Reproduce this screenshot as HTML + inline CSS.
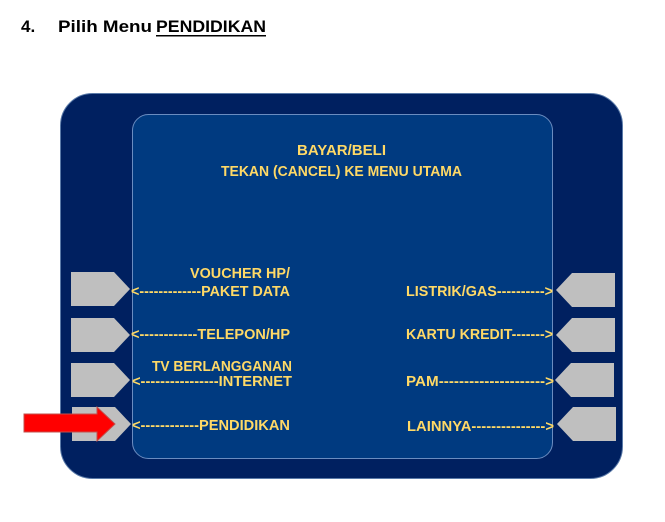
<!DOCTYPE html>
<html><head><meta charset="utf-8"><style>
html,body{margin:0;padding:0;background:#fff;width:665px;height:522px;overflow:hidden}
svg{display:block}
text{font-family:"Liberation Sans",sans-serif;font-weight:bold}
.y{fill:#ffd966;font-size:14.5px}
</style></head><body>
<svg width="665" height="522" viewBox="0 0 665 522">
<text x="21" y="32" font-size="17" fill="#000">4.</text>
<text x="58" y="32" font-size="17" fill="#000" textLength="94" lengthAdjust="spacingAndGlyphs">Pilih Menu</text>
<text x="156" y="32" font-size="17" fill="#000" textLength="110" lengthAdjust="spacingAndGlyphs">PENDIDIKAN</text>
<rect x="156" y="35" width="110" height="1.5" fill="#000"/>
<rect x="60.5" y="93.5" width="562" height="385" rx="32" fill="#002060" stroke="#5a7aa8" stroke-width="1"/>
<rect x="132.5" y="114.5" width="420" height="344" rx="16" fill="#003a80" stroke="#6a8cc0" stroke-width="1"/>
<g fill="#bfbfbf">
<polygon points="71,272 114,272 130,289 114,306 71,306"/>
<polygon points="71,318 114,318 130,335 114,352 71,352"/>
<polygon points="71,363 114,363 130,380 114,397 71,397"/>
<polygon points="72,407 115,407 131,424 115,441 72,441"/>
<polygon points="615,273 572,273 556,290 572,307 615,307"/>
<polygon points="615,318 572,318 556,335 572,352 615,352"/>
<polygon points="614,363 571,363 555,380 571,397 614,397"/>
<polygon points="616,407 573,407 557,424 573,441 616,441"/>
</g>
<polygon points="24,414 97,414 97,407 115,424 97,441 97,432 24,432" fill="#ff0000" stroke="#c0504d" stroke-width="1"/>
<text class="y" x="297" y="155" textLength="89" lengthAdjust="spacingAndGlyphs">BAYAR/BELI</text>
<text class="y" x="221" y="176" textLength="241" lengthAdjust="spacingAndGlyphs">TEKAN (CANCEL) KE MENU UTAMA</text>
<text class="y" x="190" y="278" textLength="100" lengthAdjust="spacingAndGlyphs">VOUCHER HP/</text>
<text class="y" x="131" y="296" textLength="159" lengthAdjust="spacingAndGlyphs">&lt;-------------PAKET DATA</text>
<text class="y" x="131" y="339" textLength="159" lengthAdjust="spacingAndGlyphs">&lt;------------TELEPON/HP</text>
<text class="y" x="152" y="371" textLength="140" lengthAdjust="spacingAndGlyphs">TV BERLANGGANAN</text>
<text class="y" x="132" y="386" textLength="160" lengthAdjust="spacingAndGlyphs">&lt;----------------INTERNET</text>
<text class="y" x="132" y="430" textLength="158" lengthAdjust="spacingAndGlyphs">&lt;------------PENDIDIKAN</text>
<text class="y" x="406" y="296" textLength="147" lengthAdjust="spacingAndGlyphs">LISTRIK/GAS----------&gt;</text>
<text class="y" x="406" y="339" textLength="147" lengthAdjust="spacingAndGlyphs">KARTU KREDIT-------&gt;</text>
<text class="y" x="406" y="386" textLength="148" lengthAdjust="spacingAndGlyphs">PAM---------------------&gt;</text>
<text class="y" x="407" y="431" textLength="147" lengthAdjust="spacingAndGlyphs">LAINNYA---------------&gt;</text>
</svg>
</body></html>
